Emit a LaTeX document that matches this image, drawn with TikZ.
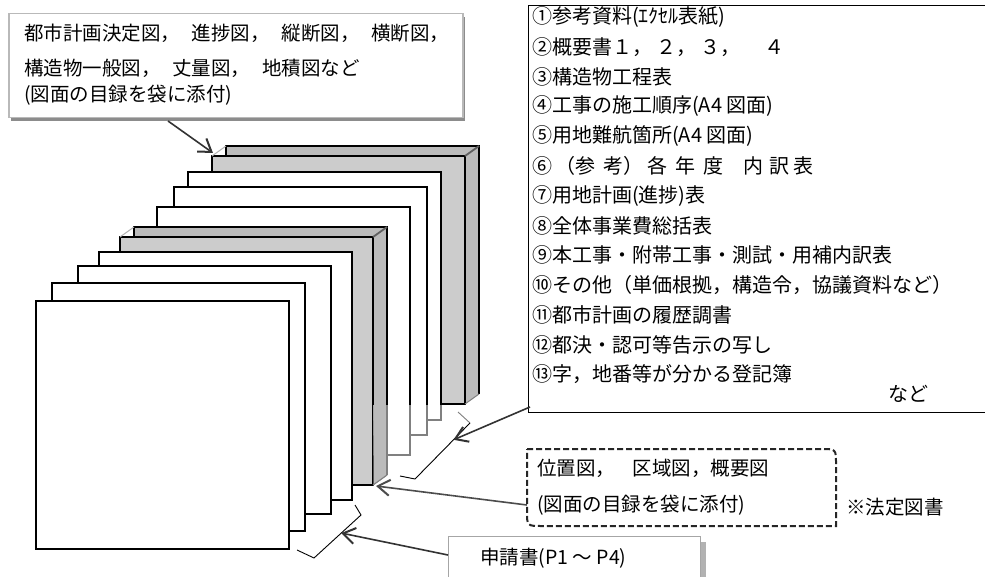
\documentclass[tikz,border=0pt]{standalone}
\usepackage{fontspec}
\newfontfamily\jpf{Noto Sans CJK JP}
\usetikzlibrary{arrows.meta,shadows,calc}
\definecolor{frontgray}{HTML}{CCCCCC}
\definecolor{sidegray}{HTML}{BBBBBB}
\definecolor{linegray}{HTML}{808080}
\newcommand\jplist{\jpf\fontsize{20}{24}\selectfont}
\newcommand\jpbox{\jpf\fontsize{19.5}{24}\selectfont}
\newcommand\mypage[3]{\draw[pageline,draw=#3] (#1,#2) rectangle ++(253,248);}
\newcommand\mycube[3]{%
\begin{scope}[shift={(#1,#2)}]
 \fill[white] (0,0) -- (14,-10) -- (14,0) -- cycle;
 \fill[sidegray] (14,-10) -- (267,-10) -- (253,0) -- (14,0) -- cycle;
 \fill[sidegray] (253,0) -- (267,-10) -- (267,238) -- (253,248) -- cycle;
 \draw[pageline,fill=frontgray,draw=#3] (0,0) rectangle (253,248);
 \draw[line width=1.7pt,draw=#3] (14,0) -- (14,-10) -- (267,-10) -- (267,238);
 \draw[line width=1pt,draw=linegray] (253,248) -- (267,238);
 \draw[line width=1pt,draw=gray!60] (0,0) -- (14,-10);
 \draw[line width=1.8pt,draw=gray!75!black] (253,0) -- (267,-10);
\end{scope}}
\begin{document}
\begin{tikzpicture}[x=1pt,y=-1pt,
  pageline/.style={line width=1.7pt,fill=white},
  txt/.style={anchor=west,inner sep=0pt,font=\jplist},
  btxt/.style={anchor=west,inner sep=0pt,font=\jpbox},
  tlbox/.style={draw=gray!55,line width=1.5pt,fill=white,inner sep=0pt,
    drop shadow={shadow xshift=2pt,shadow yshift=-3pt,fill=gray!90,opacity=1}},
  listbox/.style={draw=black,line width=1.3pt,fill=white,inner sep=0pt},
  shinbox/.style={draw=gray!70,line width=1pt,fill=white,inner sep=0pt,
    drop shadow={shadow xshift=5pt,shadow yshift=-5pt,fill=gray!60,opacity=1}},
  dashbox/.style={draw=black!85,line width=2pt,dash pattern=on 6pt off 3pt},
  bracket/.style={line width=0.9pt,black},
  arr/.style={line width=1.6pt,black!80,-{Straight Barb[length=12pt,width=16pt,line width=2pt]}}]
\clip (0,0) rectangle (985,577);
\fill[white] (0,0) rectangle (985,577);

% ---- stack of documents (back to front)
\mycube{212}{156}{black}
\mypage{188}{172}{black}
\mypage{174}{187}{black}
\mypage{157}{207}{black}
\mycube{120}{237}{black}
\begin{scope}
  \clip (373.5,405) rectangle (520,520);
  \mycube{212}{156}{linegray}
  \mypage{188}{172}{linegray}
  \mypage{174}{187}{linegray}
  \mypage{157}{207}{linegray}
  \mycube{120}{237}{linegray}
\end{scope}
\mypage{99}{252}{black}
\mypage{78}{266}{black}
\mypage{52}{283}{black}
\mypage{36}{301}{black}

% ---- brackets
\coordinate (ub1) at (458,412);
\coordinate (ub2) at (470,423);
\coordinate (ub3) at (415,479);
\coordinate (ub4) at (400,476);
\draw[bracket,draw=gray] (ub1) -- (ub2);
\draw[bracket] (ub2) -- (ub3) -- (ub4);
\coordinate (lb1) at (355,505);
\coordinate (lb2) at (361,515);
\coordinate (lb3) at (314,558);
\coordinate (lb4) at (297,550);
\draw[bracket] (lb1) -- (lb2) -- (lb3) -- (lb4);

% ---- top-left callout
\node[tlbox,anchor=north west,minimum width=454pt,minimum height=104pt] (tl) at (8,13) {};
\node[btxt] (t1) at (24,33) {都市計画決定図，\hspace{.6em}進捗図，\hspace{.6em}縦断図，\hspace{.6em}横断図，};
\node[btxt] (t2) at (24,68) {構造物一般図，\hspace{.6em}丈量図，\hspace{.6em}地積図など};
\node[btxt] (t3) at (24,95) {(図面の目録を袋に添付)};

% ---- list box
\node[listbox,anchor=north west,minimum width=470pt,minimum height=407pt] (lst) at (528,5) {};
\foreach \t [count=\i] in {
  {①参考資料(ｴｸｾﾙ表紙)},
  {②概要書１，\hspace{.2em}２，\hspace{.2em}３，\hspace{1.2em}４},
  {③構造物工程表},
  {④工事の施工順序(A4 図面)},
  {⑤用地難航箇所(A4 図面)},
  {⑥\kern3pt（参\kern8pt考）\kern4pt各\kern8pt年\kern8pt度\kern20pt内\kern6pt訳\kern4pt表},
  {⑦用地計画(進捗)表},
  {⑧全体事業費総括表},
  {⑨本工事・附帯工事・測試・用補内訳表},
  {⑩その他（単価根拠，構造令，協議資料など）},
  {⑪都市計画の履歴調書},
  {⑫都決・認可等告示の写し},
  {⑬字，地番等が分かる登記簿}}
  \node[txt] (l\i) at (532,{17+(\i-1)*29.8}) {\t};
\node[txt] (nado) at (888,394) {など};

% ---- dashed box
\coordinate (d1) at (527,449);
\coordinate (d2) at (836,449);
\coordinate (d3) at (836,526);
\coordinate (d4) at (527,526);
\draw[dashbox] (d1) -- ($(d2)+(-15,0)$) .. controls (d2) .. ($(d2)+(0,15)$) -- (d3)
  -- ($(d4)+(15,0)$) .. controls (d4) .. ($(d4)+(0,-15)$) -- cycle;
\node[btxt] (p1) at (537,468) {位置図，\hspace{.9em}区域図，概要図};
\node[btxt] (p2) at (537,505) {(図面の目録を袋に添付)};
\node[btxt] (hou) at (846,507) {※法定図書};

% ---- application box
\node[shinbox,anchor=north west,minimum width=252pt,minimum height=50pt] (shin) at (448,536) {};
\node[btxt] (shintxt) at (480,558) {申請書(P1 ～ P4)};

% ---- connectors
\coordinate (tlstart) at (168,121);
\coordinate (c2corner) at (213,153);
\draw[arr] (tlstart) -- (c2corner);
\coordinate (lststart) at (530,407);
\coordinate (ubtip) at ($(ub2)!0.3!(ub3)$);
\draw[arr] (lststart) -- (ubtip);
\coordinate (dstart) at (527,505);
\coordinate (c1corner) at (376,486);
\draw[arr,black!70] (dstart) -- (c1corner);
\coordinate (sstart) at (448,555);
\coordinate (lbtip) at ($(lb2)!0.42!(lb3)$);
\draw[arr] (sstart) -- (lbtip);
\end{tikzpicture}
\end{document}
